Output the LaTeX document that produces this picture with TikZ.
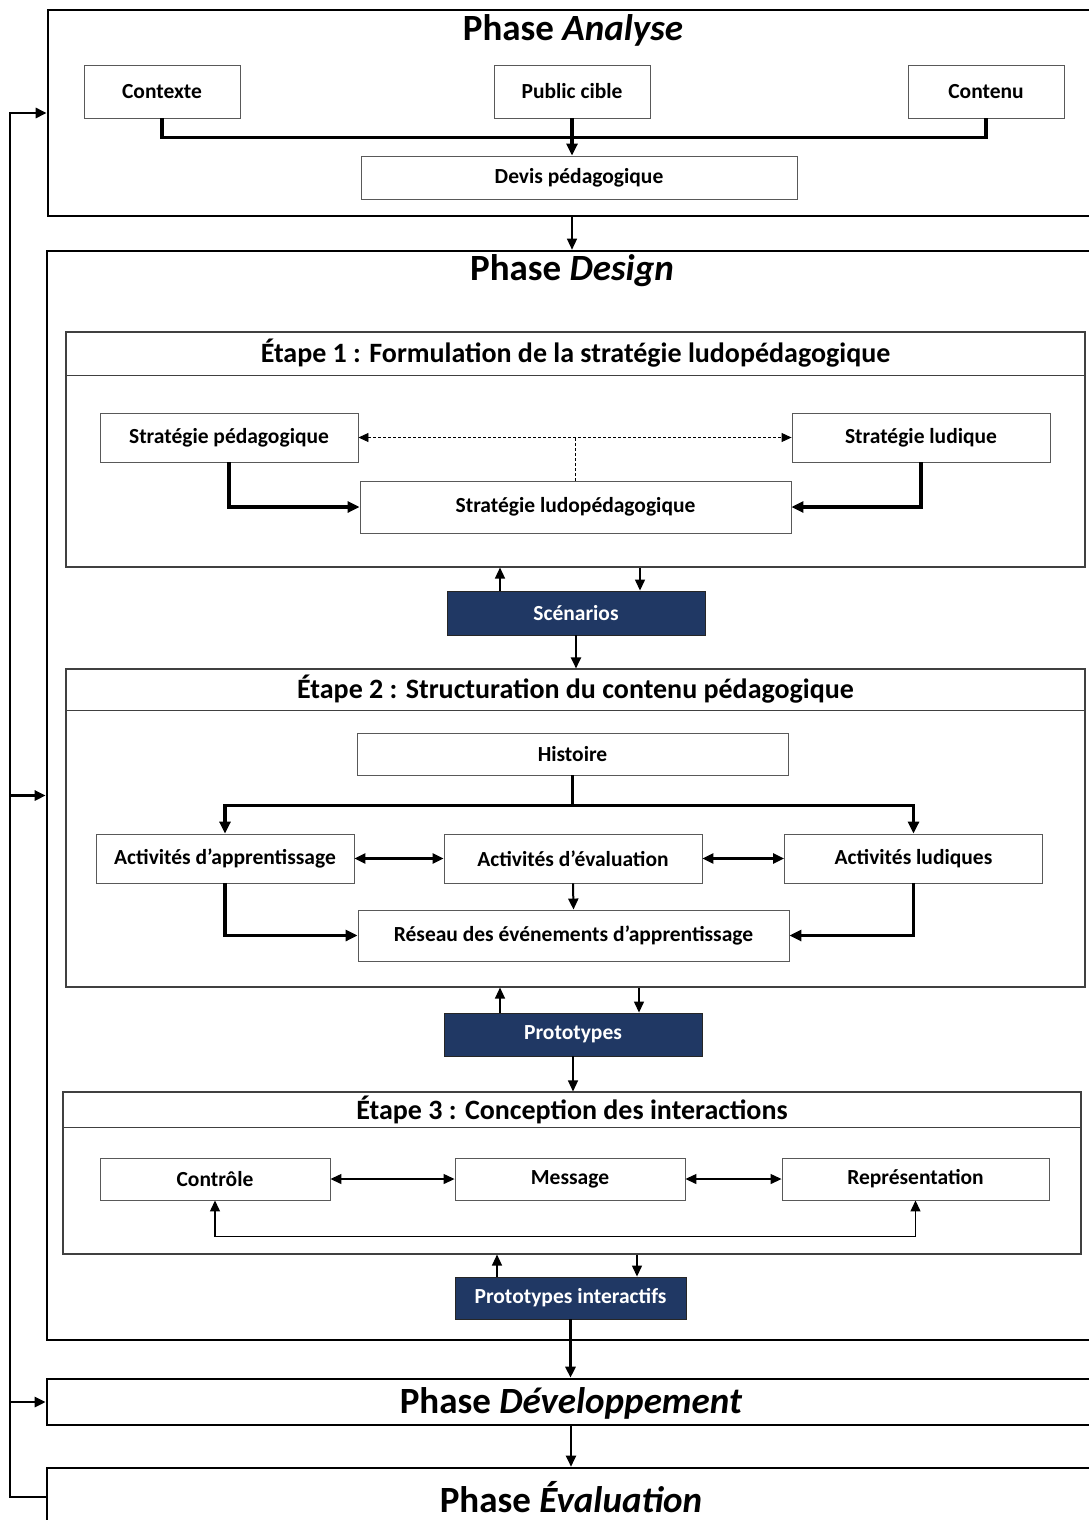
\documentclass[tikz,border=0pt]{standalone}
\usepackage{fontspec}
\setmainfont{Carlito}
\usepackage{xcolor}
\usetikzlibrary{arrows.meta}
\definecolor{bleufonce}{HTML}{203864}

\tikzset{
  boite/.style={draw=black!65, line width=0.9pt, fill=white, inner sep=0pt,
    font=\fontsize{21.5}{25}\selectfont\bfseries},
  boitebleue/.style={boite, draw=black!85, fill=bleufonce, text=white},
  phasebox/.style={draw, line width=2.6pt},
  etape/.style={draw=black!75, line width=1.1pt},
  titrephase/.style={font=\fontsize{37}{42}\selectfont\bfseries},
  titreetape/.style={font=\fontsize{28}{32}\selectfont\bfseries},
  fleche/.style={line width=1.3pt, -{Triangle[length=11pt,width=10pt]}},
  grosse/.style={line width=3.4pt, -{Triangle[length=12pt,width=11pt]}},
  pointille/.style={line width=0.9pt, dashed, dash pattern=on 3pt off 2pt,
    {Triangle[length=10pt,width=9pt]}-{Triangle[length=10pt,width=9pt]}},
  retour/.style={line width=2.6pt, -{Triangle[length=11pt,width=10pt]}}
}

\begin{document}
\begin{tikzpicture}[x=1pt, y=-1pt]
  \clip (0,0) rectangle (1089,1520);
  \useasboundingbox (0,0) rectangle (1089,1520);

  % phases
  \node[phasebox, minimum width=1102, minimum height=206] (analyse) at (599,113) {};
  \node[phasebox, minimum width=1103, minimum height=1089] (design) at (598.5,795.5) {};
  \node[phasebox, minimum width=1103, minimum height=46] (developpement) at (598.5,1402) {};
  \node[phasebox, minimum width=1103, minimum height=92] (evaluation) at (598.5,1514) {};
  \node[titrephase] (tanalyse) at (573,30) {Phase \textit{Analyse}};
  \node[titrephase] (tdesign) at (572,271) {Phase \textit{Design}};
  \node[titrephase] (tdev) at (571,1403) {Phase \textit{Développement}};
  \node[titrephase] (teval) at (571,1497) {Phase \textit{Évaluation}};

  % analyse
  \foreach \nom/\x/\texte in {contexte/162/Contexte, public/572/Public cible, contenu/986/Contenu}
    \node[boite, minimum width=156, minimum height=53] (\nom) at (\x,91.5) {\texte};
  \node[boite, minimum width=436, minimum height=43] (devis) at (579,177.5) {Devis pédagogique};
  \draw[grosse, -] (contexte.south) -- ++(0,19) -| (contenu.south);
  \draw[grosse] (public.south) -- (devis.north -| public.south);
  \draw[fleche] (analyse.south -| public) -- (design.north -| public);

  % etape 1
  \node[etape, minimum width=1019, minimum height=235] (etape1) at (575.5,449.5) {};
  \draw[etape] ([yshift=-44pt]etape1.north west) -- ([yshift=-44pt]etape1.north east);
  \node[titreetape] (titre1) at ([yshift=-22pt]etape1.north) {Étape 1 : Formulation de la stratégie ludopédagogique};
  \node[boite, minimum width=258, minimum height=49] (stratped) at (229,437.5) {Stratégie pédagogique};
  \node[boite, minimum width=258, minimum height=49] (stratlud) at (921,437.5) {Stratégie ludique};
  \node[boite, minimum width=431, minimum height=52] (ludoped) at (575.5,507) {Stratégie ludopédagogique};
  \draw[pointille] (stratped) -- (stratlud);
  \draw[pointille, -] (ludoped.north) -- (ludoped.north |- stratped);
  \draw[grosse] (stratped.south) |- (ludoped.west);
  \draw[grosse] (stratlud.south) |- (ludoped.east);
  \node[boitebleue, minimum width=258, minimum height=44] (scenarios) at (576,613) {Scénarios};
  \draw[fleche] ([xshift=-76pt]scenarios.north) -- ([xshift=-76pt]scenarios.north |- etape1.south);
  \draw[fleche] ([xshift=64pt]scenarios.north |- etape1.south) -- ([xshift=64pt]scenarios.north);

  % etape 2
  \node[etape, minimum width=1019, minimum height=318] (etape2) at (575.5,828) {};
  \draw[etape] ([yshift=-42pt]etape2.north west) -- ([yshift=-42pt]etape2.north east);
  \node[titreetape] (titre2) at ([yshift=-21pt]etape2.north) {Étape 2 : Structuration du contenu pédagogique};
  \draw[fleche, line width=2pt] (scenarios.south) -- (scenarios.south |- etape2.north);
  \node[boite, minimum width=431, minimum height=42] (histoire) at (572.5,754) {Histoire};
  \foreach \nom/\x/\texte in {actapp/225/Activités d’apprentissage, acteval/573/Activités d’évaluation, actlud/913.5/Activités ludiques}
    \node[boite, minimum width=258, minimum height=49] (\nom) at (\x,858.5) {\texte};
  \node[boite, minimum width=431, minimum height=51] (reseau) at (573.5,935.5) {Réseau des événements d’apprentissage};
  \draw[grosse, -] (histoire.south) -- ++(0,30) coordinate (embranche);
  \draw[grosse] (embranche) -| (actapp.north);
  \draw[grosse] (embranche) -| (actlud.north);
  \draw[grosse, line width=2.6pt, {Triangle[length=11pt,width=10pt]}-{Triangle[length=11pt,width=10pt]}] (actapp) -- (acteval);
  \draw[grosse, line width=2.6pt, {Triangle[length=11pt,width=10pt]}-{Triangle[length=11pt,width=10pt]}] (acteval) -- (actlud);
  \draw[fleche, line width=2pt] (acteval.south) -- (reseau.north);
  \draw[grosse] (actapp.south) |- (reseau.west);
  \draw[grosse] (actlud.south) |- (reseau.east);
  \node[boitebleue, minimum width=258, minimum height=43] (prototypes) at (573,1034.5) {Prototypes};
  \draw[fleche] ([xshift=-73pt]prototypes.north) -- ([xshift=-73pt]prototypes.north |- etape2.south);
  \draw[fleche] ([xshift=66pt]prototypes.north |- etape2.south) -- ([xshift=66pt]prototypes.north);

  % etape 3
  \node[etape, minimum width=1018, minimum height=162] (etape3) at (572,1173) {};
  \draw[etape] ([yshift=-36pt]etape3.north west) -- ([yshift=-36pt]etape3.north east);
  \node[titreetape] (titre3) at ([yshift=-18pt]etape3.north) {Étape 3 : Conception des interactions};
  \draw[fleche] (prototypes.south) -- (prototypes.south |- etape3.north);
  \node[boite, minimum width=230, minimum height=42] (controle) at (215,1179) {Contrôle};
  \node[boite, minimum width=230, minimum height=42] (message) at (570,1179) {Message};
  \node[boite, minimum width=267, minimum height=42] (represent) at (915.5,1179) {Représentation};
  \draw[fleche, {Triangle[length=11pt,width=10pt]}-{Triangle[length=11pt,width=10pt]}] (controle) -- (message);
  \draw[fleche, {Triangle[length=11pt,width=10pt]}-{Triangle[length=11pt,width=10pt]}] (message) -- (represent);
  \draw[fleche, {Triangle[length=11pt,width=10pt]}-{Triangle[length=11pt,width=10pt]}] (controle.south) -- ++(0,36) -| (represent.south);
  \node[boitebleue, minimum width=231, minimum height=42] (protoint) at (570.5,1298) {Prototypes interactifs};
  \draw[fleche] ([xshift=-73.5pt]protoint.north) -- ([xshift=-73.5pt]protoint.north |- etape3.south);
  \draw[fleche] ([xshift=66.5pt]protoint.north |- etape3.south) -- ([xshift=66.5pt]protoint.north);

  % developpement et evaluation
  \draw[fleche, line width=3pt] (protoint.south) -- (protoint.south |- developpement.north);
  \draw[fleche, line width=2pt] (developpement.south -| tdev) -- (evaluation.north -| tdev);

  % boucle de retour
  \coordinate (gauche) at (10,0);
  \draw[retour] (teval -| evaluation.west) -- (teval -| gauche) |- (analyse.west);
  \draw[retour] (gauche |- design.west) -- (design.west);
  \draw[retour] (gauche |- developpement.west) -- (developpement.west);
\end{tikzpicture}
\end{document}
